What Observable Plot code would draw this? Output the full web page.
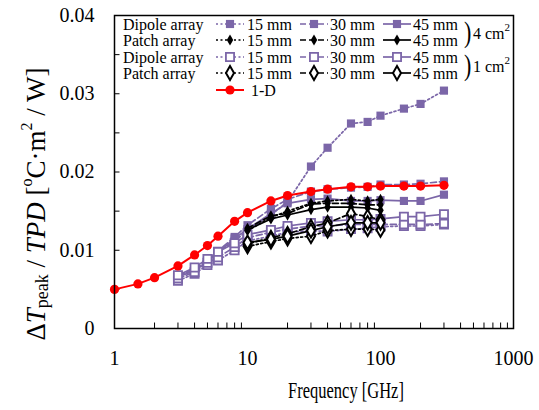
<!DOCTYPE html>
<html><head><meta charset="utf-8">
<script src="https://cdn.jsdelivr.net/npm/d3@7"></script>
<script src="https://cdn.jsdelivr.net/npm/@observablehq/plot@0.6"></script>
<style>
html,body{margin:0;padding:0;background:#fff;}
#chart{width:539px;height:410px;}
</style>
</head><body><div id="chart"></div>
<script>
// ---------- data ----------
const freq1D = [1,1.5,2,3,4,5,6,8,10,15,20,30,40,60,80,100,150,200,300];
const freqDipole = [3,4,5,6,8,10,15,20,30,40,60,80,100,150,200,300];
const freqPatch = [10,15,20,30,40,60,80,100];

const oneD = [0.0050,0.0057,0.0065,0.0080,0.0094,0.0106,0.0118,0.0137,0.0148,0.0163,0.0170,0.0175,0.0178,0.0181,0.0181,0.0182,0.0182,0.0182,0.0183];

const dipole4_15 = [0.0068,0.0075,0.0086,0.0097,0.0112,0.0125,0.0145,0.0162,0.0207,0.0231,0.0262,0.0264,0.0272,0.0281,0.0287,0.0304];
const dipole4_30 = [0.0068,0.0076,0.0087,0.0099,0.0117,0.0132,0.0153,0.0165,0.0175,0.0178,0.0180,0.0181,0.0184,0.0184,0.0185,0.0188];
const dipole4_45 = [0.0066,0.0074,0.0085,0.0097,0.0115,0.0127,0.0147,0.0160,0.0165,0.0166,0.0163,0.0163,0.0164,0.0163,0.0163,0.0171];
const dipole1_15 = [0.0061,0.0070,0.0081,0.0087,0.0100,0.0112,0.0118,0.0123,0.0125,0.0124,0.0127,0.0128,0.0130,0.0131,0.0131,0.0133];
const dipole1_30 = [0.0064,0.0072,0.0084,0.0091,0.0104,0.0116,0.0123,0.0127,0.0131,0.0131,0.0133,0.0133,0.0133,0.0133,0.0133,0.0134];
const dipole1_45 = [0.0068,0.0078,0.0089,0.0098,0.0109,0.0120,0.0126,0.0131,0.0135,0.0137,0.0139,0.0139,0.0140,0.0143,0.0143,0.0146];

const patch4_15 = [0.0125,0.0142,0.0150,0.0160,0.0163,0.0165,0.0163,0.0165];
const patch4_30 = [0.0128,0.0144,0.0147,0.0159,0.0160,0.0160,0.0158,0.0158];
const patch4_45 = [0.0126,0.0140,0.0145,0.0152,0.0155,0.0155,0.0154,0.0151];
const patch1_15 = [0.0105,0.0111,0.0115,0.0118,0.0125,0.0127,0.0127,0.0126];
const patch1_30 = [0.0108,0.0116,0.0121,0.0130,0.0135,0.0147,0.0143,0.0139];
const patch1_45 = [0.0110,0.0114,0.0118,0.0125,0.0130,0.0135,0.0135,0.0135];

const xTicks = [1,10,100,1000];
const xMinorTicks = [2,3,4,5,6,7,8,9,20,30,40,50,60,70,80,90,200,300,400,500,600,700,800,900];
const yTicks = [0,0.01,0.02,0.03,0.04];
const yMinorTicks = [0.005,0.01,0.015,0.02,0.025,0.03,0.035];
const legendSizes = ["15 mm","30 mm","45 mm"];

// ---------- styles ----------
const PURPLE = "#7b66a8";
const RED = "#ff0000";
const dashes = {"15":"2,2.5","30":"6,3","45":null};

const styles = {
  dip4: {stroke: PURPLE, symbol: "square", fill: PURPLE, mstroke: "none", r: 4.6, sw: 0},
  dip1: {stroke: PURPLE, symbol: "square", fill: "white", mstroke: PURPLE, r: 4.6, sw: 1.8},
  pat4: {stroke: "black", symbol: "diamond", fill: "black", mstroke: "none", r: 3.4, sw: 0},
  pat1: {stroke: "black", symbol: "diamond", fill: "white", mstroke: "black", r: 4.2, sw: 2},
};

const seriesDefs = [
  {key:"dip4", mm:"15", f: freqDipole, v: dipole4_15},
  {key:"dip4", mm:"30", f: freqDipole, v: dipole4_30},
  {key:"dip4", mm:"45", f: freqDipole, v: dipole4_45},
  {key:"dip1", mm:"15", f: freqDipole, v: dipole1_15},
  {key:"dip1", mm:"30", f: freqDipole, v: dipole1_30},
  {key:"dip1", mm:"45", f: freqDipole, v: dipole1_45},
  {key:"pat4", mm:"15", f: freqPatch, v: patch4_15},
  {key:"pat4", mm:"30", f: freqPatch, v: patch4_30},
  {key:"pat4", mm:"45", f: freqPatch, v: patch4_45},
  {key:"pat1", mm:"15", f: freqPatch, v: patch1_15},
  {key:"pat1", mm:"30", f: freqPatch, v: patch1_30},
  {key:"pat1", mm:"45", f: freqPatch, v: patch1_45},
];

const FONT = "Liberation Serif, Times New Roman, serif";

const marks = [];
marks.push(Plot.ruleX(xMinorTicks, {x: d => d, y1: 0, y2: 0.0007, stroke: "black", strokeWidth: 1}));
marks.push(Plot.ruleY(yMinorTicks, {y: d => d, x1: 1, x2: 1.1, stroke: "black", strokeWidth: 1}));

for (const s of seriesDefs) {
  const st = styles[s.key];
  const data = s.f.map((f, i) => ({f, v: s.v[i]}));
  marks.push(Plot.line(data, {x: "f", y: "v", stroke: st.stroke, strokeWidth: 1.7,
    strokeDasharray: dashes[s.mm] || undefined}));
  marks.push(Plot.dot(data, {x: "f", y: "v", symbol: st.symbol, r: st.r, fill: st.fill,
    stroke: st.mstroke, strokeWidth: st.sw}));
}
const oneDData = freq1D.map((f, i) => ({f, v: oneD[i]}));
marks.push(Plot.line(oneDData, {x: "f", y: "v", stroke: RED, strokeWidth: 2}));
marks.push(Plot.dot(oneDData, {x: "f", y: "v", r: 4.6, fill: RED, stroke: "none"}));

marks.push(Plot.frame({stroke: "black", strokeWidth: 1.5}));
marks.push(Plot.axisX({ticks: xTicks, tickSize: 0, tickPadding: 22, tickFormat: d => String(d), label: null, fontSize: 20}));
marks.push(Plot.axisY({ticks: yTicks, tickSize: 0, tickPadding: 20, tickFormat: d => d === 0 ? "0" : d.toFixed(2), label: null, fontSize: 20}));

const chart = Plot.plot({
  width: 539, height: 410,
  marginLeft: 114, marginRight: 26, marginTop: 15, marginBottom: 82,
  style: {fontFamily: FONT, color: "black", background: "white", overflow: "visible"},
  x: {type: "log", domain: [1, 1000]},
  y: {domain: [0, 0.04]},
  marks
});
document.getElementById("chart").appendChild(chart);

// ---------- titles and legend ----------
const svg = d3.select(chart);

svg.append("text").attr("transform", "translate(346,391) scale(1,1.35)").attr("text-anchor", "middle")
  .attr("dominant-baseline", "central").attr("font-family", FONT).attr("font-size", 16.5)
  .attr("fill", "black").text("Frequency [GHz]");

const yt = svg.append("text").attr("transform", "translate(36,204) rotate(-90)")
  .attr("text-anchor", "middle").attr("dominant-baseline", "central")
  .attr("font-family", FONT).attr("font-size", 27).attr("fill", "black");
yt.append("tspan").text("Δ");
yt.append("tspan").attr("font-style", "italic").text("T");
yt.append("tspan").attr("font-size", 18).attr("dy", 6).text("peak");
yt.append("tspan").attr("dy", -6).text(" / ");
yt.append("tspan").attr("font-style", "italic").text("TPD");
yt.append("tspan").text(" [");
yt.append("tspan").attr("font-size", 16).attr("dy", -10).text("o");
yt.append("tspan").attr("dy", 10).text("C·m");
yt.append("tspan").attr("font-size", 16).attr("dy", -10).text("2");
yt.append("tspan").attr("dy", 10).text(" / W]");

const LFS = 16;
const lg = svg.append("g").attr("font-family", FONT).attr("font-size", LFS)
  .attr("fill", "black").attr("text-anchor", "start");
const rows = [
  {label: "Dipole array", key: "dip4", y: 24},
  {label: "Patch array", key: "pat4", y: 40},
  {label: "Dipole array", key: "dip1", y: 57},
  {label: "Patch array", key: "pat1", y: 73},
];
const cols = [{x0: 216, x1: 244, tx: 247, mm: "15"}, {x0: 300, x1: 328, tx: 330, mm: "30"}, {x0: 383, x1: 411, tx: 413, mm: "45"}];
function symPath(name, r) {
  const t = name === "square" ? d3.symbolSquare : name === "diamond" ? d3.symbolDiamond : d3.symbolCircle;
  return d3.symbol(t, Math.PI * r * r)();
}
rows.forEach((row) => {
  const st = styles[row.key];
  lg.append("text").attr("x", 123).attr("y", row.y).attr("dominant-baseline", "central").text(row.label);
  cols.forEach((c, ci) => {
    lg.append("line").attr("x1", c.x0).attr("x2", c.x1).attr("y1", row.y).attr("y2", row.y)
      .attr("stroke", st.stroke).attr("stroke-width", 1.7)
      .attr("stroke-dasharray", dashes[c.mm] || null);
    lg.append("path").attr("d", symPath(st.symbol, st.r))
      .attr("transform", `translate(${(c.x0 + c.x1) / 2},${row.y})`)
      .attr("fill", st.fill).attr("stroke", st.mstroke).attr("stroke-width", st.sw);
    lg.append("text").attr("x", c.tx).attr("y", row.y).attr("dominant-baseline", "central").text(legendSizes[ci]);
  });
});
[{y: 32, area: "4 cm"}, {y: 65, area: "1 cm"}].forEach(b => {
  lg.append("text").attr("transform", `translate(464,${b.y}) scale(1,1.3)`).attr("dominant-baseline", "central").attr("font-size", 22).text(")");
  const t = lg.append("text").attr("x", 473).attr("y", b.y + 1).attr("dominant-baseline", "central");
  t.append("tspan").text(b.area);
  t.append("tspan").attr("font-size", 11).attr("dy", -6).text("2");
});
lg.append("line").attr("x1", 216).attr("x2", 244).attr("y1", 90).attr("y2", 90).attr("stroke", RED).attr("stroke-width", 2);
lg.append("circle").attr("cx", 230).attr("cy", 90).attr("r", 4.6).attr("fill", RED);
lg.append("text").attr("x", 251).attr("y", 90).attr("dominant-baseline", "central").text("1-D");
</script>
</body></html>
